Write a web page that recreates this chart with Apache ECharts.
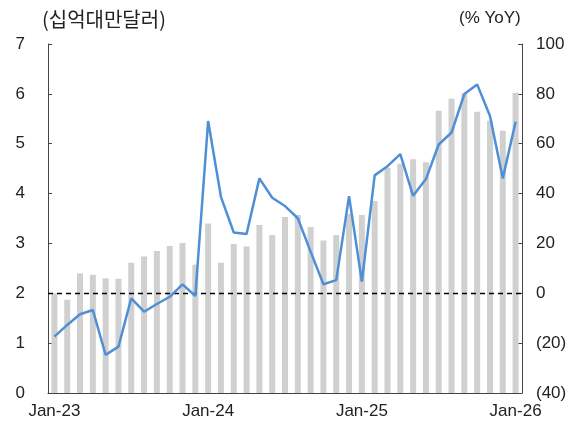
<!DOCTYPE html>
<html>
<head>
<meta charset="utf-8">
<script src="https://cdn.jsdelivr.net/npm/echarts@6/dist/echarts.min.js"></script>
<style>
    html, body { margin: 0; padding: 0; background: #fff; }
    #chart { width: 582px; height: 433px; }
</style>
</head>
<body>
<div id="chart"></div>
<script>
// months Jan-23 .. Jan-26
const months = [
    "Jan-23", "Feb-23", "Mar-23", "Apr-23", "May-23", "Jun-23", "Jul-23", "Aug-23", "Sep-23", "Oct-23", "Nov-23", "Dec-23",
    "Jan-24", "Feb-24", "Mar-24", "Apr-24", "May-24", "Jun-24", "Jul-24", "Aug-24", "Sep-24", "Oct-24", "Nov-24", "Dec-24",
    "Jan-25", "Feb-25", "Mar-25", "Apr-25", "May-25", "Jun-25", "Jul-25", "Aug-25", "Sep-25", "Oct-25", "Nov-25", "Dec-25",
    "Jan-26"
];

// bars, 십억대만달러 (left axis)
const amount = [
    2.00, 1.87, 2.40, 2.37, 2.30, 2.29, 2.61, 2.74, 2.85, 2.95, 3.01, 2.57,
    3.40, 2.61, 2.99, 2.94, 3.37, 3.17, 3.53, 3.57, 3.33, 3.06, 3.17, 3.59,
    3.57, 3.85, 4.52, 4.60, 4.69, 4.63, 5.66, 5.90, 6.01, 5.64, 5.46, 5.26,
    6.02
];

// line, % YoY (right axis)
const yoy = [
    -17.4, -12.7, -8.4, -6.7, -24.7, -21.4, -2.0, -7.4, -4.3, -1.4, 3.6, -1.1,
    69.1, 38.7, 24.4, 23.8, 46.1, 38.3, 35.0, 30.1, 16.7, 3.6, 5.3, 39.0,
    4.7, 47.3, 51.0, 55.8, 39.1, 45.8, 59.7, 64.5, 79.9, 83.8, 71.1, 46.1,
    68.8
];

const font = "'Liberation Sans', Arial, sans-serif";
const axisColor = "#444";

let chart = echarts.init(document.getElementById("chart"));
chart.setOption({
    animation: false,
    textStyle: { fontFamily: font, color: "#222" },
    grid: { left: 48, right: 60, top: 44, bottom: 40 },
    graphic: [
        {
            type: "text", left: 42, top: 9,
            style: { text: "(십억대만달러)", font: "20px 'Noto Sans CJK KR', sans-serif", fill: "#222" }
        },
        {
            type: "text", left: 459, top: 10,
            style: { text: "(% YoY)", font: "17px " + font, fill: "#222" }
        }
    ],
    xAxis: {
        type: "category",
        data: months,
        boundaryGap: true,
        axisLine: { lineStyle: { color: axisColor, width: 1 } },
        axisTick: { inside: true, length: 4, interval: 5, lineStyle: { color: axisColor } },
        axisLabel: { interval: 11, fontSize: 17, color: "#222", margin: 10 }
    },
    yAxis: [
        {
            type: "value",
            min: 0, max: 7, interval: 1,
            axisLine: { show: true, lineStyle: { color: axisColor } },
            axisTick: { show: true, inside: true, length: 4, lineStyle: { color: axisColor } },
            axisLabel: { fontSize: 17, color: "#222", margin: 23 },
            splitLine: { show: false }
        },
        {
            type: "value",
            min: -40, max: 100, interval: 20,
            position: "right",
            axisLine: { show: true, lineStyle: { color: axisColor } },
            axisTick: { show: true, inside: true, length: 4, lineStyle: { color: axisColor } },
            axisLabel: {
                fontSize: 17, color: "#222", margin: 14,
                formatter: function (v) { return v < 0 ? "(" + Math.abs(v) + ")" : String(v); }
            },
            splitLine: { show: false }
        }
    ],
    series: [
        {
            name: "amount",
            type: "bar",
            yAxisIndex: 0,
            data: amount,
            barWidth: 6,
            itemStyle: { color: "#d0d0d0" }
        },
        {
            name: "yoy",
            type: "line",
            yAxisIndex: 1,
            data: yoy,
            showSymbol: false,
            lineStyle: { color: "#4f8fd6", width: 2.5 },
            z: 5,
            markLine: {
                silent: true,
                symbol: "none",
                label: { show: false },
                lineStyle: { color: "#000", type: [5, 4], width: 1.3 },
                data: [{ yAxis: 0 }],
                z: 3
            }
        }
    ]
});
</script>
</body>
</html>
